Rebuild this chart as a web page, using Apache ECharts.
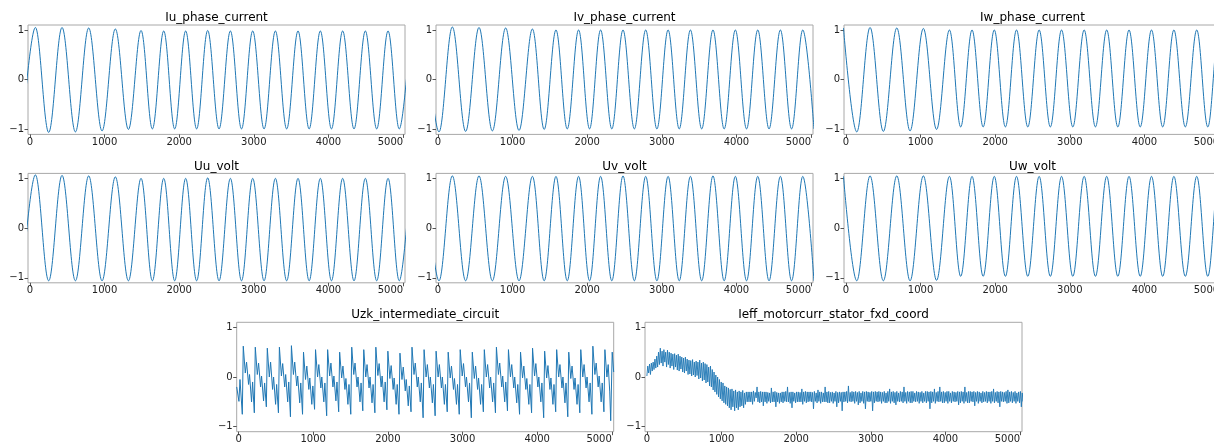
<!DOCTYPE html>
<html><head><meta charset="utf-8">
<script src="https://cdn.jsdelivr.net/npm/echarts@6/dist/echarts.min.js"></script>
<style>html,body{margin:0;padding:0;background:#fff}#c{width:1214px;height:442px}</style>
</head><body><div id="c"></div>
<script>
const titles = ['Iu_phase_current','Iv_phase_current','Iw_phase_current','Uu_volt','Uv_volt','Uw_volt','Uzk_intermediate_circuit','Ieff_motorcurr_stator_fxd_coord'];
const xTicks = [0,1000,2000,3000,4000,5000];
const yTicks = [-1,0,1];

// sample positions of the extrema (peaks / troughs)
const uExtX = [-104,74,252,431,610,788,967,1145,1320,1489,1641,1793,1940,2087,2234,2382,2534,2686,2835,2985,3137,3289,3440,3592,3741,3891,4040,4190,4342,4494,4646,4798,4948,5098];
const vExtX = [-164,15,194,372,551,730,908,1087,1266,1424,1582,1733,1885,2032,2180,2330,2480,2632,2784,2934,3084,3233,3383,3534,3685,3835,3985,4135,4285,4436,4588,4738,4888,5038];
const wExtX = [-32,146,324,502,682,860,1038,1215,1387,1538,1690,1839,1988,2137,2286,2437,2589,2739,2889,3040,3192,3343,3494,3643,3793,3943,4094,4244,4394,4547,4700,4848,4996,5146];

const iuY = [-1.06,1.05,-1.06,1.05,-1.05,1.04,-1.03,1.02,-1.0,0.99,-0.99,0.98,-0.99,0.98,-0.99,0.99,-0.99,0.98,-0.99,0.98,-0.99,0.98,-0.99,0.98,-0.99,0.98,-0.99,0.98,-0.99,0.98,-0.99,0.98,-0.99,0.98];
const ivY = [1.06,-1.05,1.06,-1.04,1.05,-1.03,1.04,-1.02,1.02,-1.0,1.0,-0.99,1.0,-0.99,1.0,-0.99,1.0,-0.99,1.0,-0.99,1.0,-0.99,1.0,-0.99,1.0,-0.99,1.0,-0.99,1.0,-0.99,1.0,-0.99,1.0,-0.99];
const iwY = [1.04,-1.05,1.05,-1.04,1.04,-1.03,1.03,-1.0,1.0,-0.95,1.0,-0.95,1.0,-0.95,1.0,-0.95,1.0,-0.95,1.0,-0.95,1.0,-0.95,1.0,-0.95,1.0,-0.95,1.0,-0.95,1.0,-0.95,1.0,-0.95,1.0,-0.95];
const uuY = [-1.06,1.07,-1.06,1.06,-1.06,1.05,-1.06,1.03,-1.06,1.0,-1.06,1.0,-1.06,1.0,-1.06,1.01,-1.06,1.0,-1.06,1.0,-1.06,1.0,-1.06,1.0,-1.06,1.0,-1.06,1.0,-1.06,1.0,-1.06,1.0,-1.06,1.0];
const uvY = [1.05,-1.06,1.05,-1.06,1.05,-1.06,1.04,-1.06,1.04,-1.06,1.04,-1.06,1.04,-1.06,1.04,-1.06,1.05,-1.06,1.04,-1.06,1.04,-1.06,1.04,-1.06,1.05,-1.06,1.04,-1.06,1.04,-1.06,1.04,-1.06,1.04,-1.06];
const uwY = [1.04,-1.06,1.05,-1.06,1.05,-1.06,1.05,-1.05,1.04,-0.97,1.04,-0.97,1.04,-0.97,1.04,-0.97,1.04,-0.97,1.04,-0.97,1.04,-0.97,1.04,-0.97,1.04,-0.97,1.04,-0.97,1.04,-0.97,1.04,-0.97,1.04,-0.97];

// DC-link voltage: [sample, value] turning points
const uzk = [
[-25,-0.2],[5,-0.49],[19,-0.05],[50,-0.75],
[63,0.62],[90,0.08],[107,0.3],[134,-0.15],[147,0.05],[174,-0.5],[188,-0.1],[211,-0.72],
[224,0.6],[251,0.05],[268,0.28],[295,-0.2],[308,0.02],[335,-0.48],[349,-0.12],[372,-0.6],
[385,0.58],[412,0.0],[429,0.3],[456,-0.25],[469,0.0],[496,-0.55],[510,-0.15],[534,-0.72],
[547,0.6],[574,0.02],[591,0.27],[618,-0.2],[631,0.05],[658,-0.5],[672,-0.1],[695,-0.8],
[708,0.63],[735,0.05],[752,0.3],[779,-0.18],[792,0.02],[819,-0.52],[833,-0.12],[857,-0.75],
[870,0.5],[897,-0.05],[914,0.22],[941,-0.25],[954,-0.02],[981,-0.55],[995,-0.18],[1018,-0.65],
[1031,0.55],[1058,0.0],[1075,0.25],[1102,-0.22],[1115,0.0],[1142,-0.5],[1156,-0.12],[1180,-0.78],
[1193,0.55],[1220,0.02],[1237,0.28],[1264,-0.2],[1277,0.02],[1304,-0.48],[1318,-0.1],[1341,-0.7],
[1354,0.5],[1381,-0.02],[1398,0.22],[1425,-0.25],[1438,-0.03],[1465,-0.55],[1479,-0.15],[1503,-0.75],
[1516,0.6],[1543,0.05],[1560,0.28],[1587,-0.2],[1600,0.0],[1627,-0.5],[1641,-0.12],[1664,-0.68],
[1677,0.55],[1704,0.0],[1721,0.25],[1748,-0.22],[1761,0.0],[1788,-0.52],[1802,-0.15],[1826,-0.72],
[1839,0.6],[1866,0.03],[1883,0.27],[1910,-0.2],[1923,0.02],[1950,-0.5],[1964,-0.1],[1987,-0.66],
[2000,0.52],[2027,-0.03],[2044,0.23],[2071,-0.25],[2084,-0.02],[2111,-0.55],[2125,-0.15],[2149,-0.75],
[2162,0.48],[2189,-0.05],[2206,0.2],[2233,-0.28],[2246,-0.05],[2273,-0.58],[2287,-0.18],[2310,-0.7],
[2323,0.6],[2350,0.05],[2367,0.28],[2394,-0.2],[2407,0.0],[2434,-0.5],[2448,-0.12],[2472,-0.82],
[2485,0.55],[2512,0.0],[2529,0.25],[2556,-0.22],[2569,0.0],[2596,-0.52],[2610,-0.15],[2633,-0.78],
[2646,0.52],[2673,0.0],[2690,0.25],[2717,-0.22],[2730,0.0],[2757,-0.55],[2771,-0.15],[2795,-0.7],
[2808,0.5],[2835,-0.02],[2852,0.22],[2879,-0.25],[2892,-0.03],[2919,-0.55],[2933,-0.15],[2956,-0.75],
[2969,0.55],[2996,0.02],[3013,0.27],[3040,-0.2],[3053,0.0],[3080,-0.5],[3094,-0.12],[3118,-0.82],
[3131,0.5],[3158,-0.03],[3175,0.22],[3202,-0.25],[3215,-0.02],[3242,-0.55],[3256,-0.15],[3279,-0.7],
[3292,0.55],[3319,0.0],[3336,0.25],[3363,-0.22],[3376,0.0],[3403,-0.5],[3417,-0.12],[3441,-0.72],
[3454,0.6],[3481,0.05],[3498,0.28],[3525,-0.2],[3538,0.02],[3565,-0.5],[3579,-0.1],[3602,-0.68],
[3615,0.55],[3642,0.0],[3659,0.25],[3686,-0.22],[3699,0.0],[3726,-0.52],[3740,-0.15],[3764,-0.75],
[3777,0.5],[3804,-0.02],[3821,0.22],[3848,-0.25],[3861,-0.03],[3888,-0.55],[3902,-0.15],[3925,-0.72],
[3938,0.58],[3965,0.02],[3982,0.27],[4009,-0.2],[4022,0.0],[4049,-0.5],[4063,-0.12],[4087,-0.82],
[4100,0.52],[4127,-0.02],[4144,0.23],[4171,-0.25],[4184,-0.02],[4211,-0.55],[4225,-0.15],[4248,-0.7],
[4261,0.55],[4288,0.0],[4305,0.25],[4332,-0.22],[4345,0.0],[4372,-0.52],[4386,-0.12],[4410,-0.8],
[4423,0.5],[4450,-0.03],[4467,0.22],[4494,-0.25],[4507,-0.02],[4534,-0.55],[4548,-0.15],[4571,-0.72],
[4584,0.55],[4611,0.0],[4628,0.25],[4655,-0.22],[4668,0.0],[4695,-0.5],[4709,-0.12],[4733,-0.75],
[4746,0.62],[4773,0.05],[4790,0.28],[4817,-0.2],[4830,0.02],[4857,-0.5],[4871,-0.12],[4894,-0.7],
[4907,0.55],[4934,0.0],[4951,0.25],[4972,-0.3],[4985,-0.88],[5005,0.5],[5025,0.1]
];

// effective motor current, one reading every IEFF_STEP samples
const IEFF_STEP = 12;
const ieff = [
0.02,0.22,0.08,0.26,0.05,0.28,0.12,0.3,
0.15,0.36,0.18,0.42,0.2,0.5,0.25,0.58,
0.28,0.52,0.22,0.55,0.3,0.5,0.2,0.54,
0.25,0.5,0.18,0.48,0.22,0.46,0.15,0.47,
0.2,0.44,0.14,0.46,0.12,0.42,0.16,0.4,
0.1,0.38,0.08,0.4,0.12,0.36,0.05,0.34,
0.06,0.33,0.02,0.35,0.04,0.3,0.0,0.32,
0.03,0.3,-0.04,0.34,-0.02,0.28,-0.08,0.3,
-0.06,0.27,-0.12,0.25,-0.1,0.2,-0.18,0.22,
-0.2,0.15,-0.26,0.1,-0.3,0.04,-0.35,0.0,
-0.4,-0.05,-0.44,-0.1,-0.48,-0.12,-0.52,-0.18,
-0.55,-0.2,-0.58,-0.22,-0.62,-0.25,-0.66,-0.24,
-0.6,-0.28,-0.68,-0.26,-0.62,-0.3,-0.66,-0.28,
-0.6,-0.3,-0.58,-0.27,-0.62,-0.32,-0.55,-0.3,
-0.5,-0.3,-0.5,-0.3,-0.5,-0.3,-0.55,-0.28,
-0.49,-0.31,-0.42,-0.2,-0.5,-0.3,-0.52,-0.29,
-0.5,-0.3,-0.58,-0.3,-0.5,-0.3,-0.53,-0.31,
-0.49,-0.32,-0.52,-0.22,-0.5,-0.3,-0.5,-0.29,
-0.6,-0.31,-0.5,-0.32,-0.53,-0.32,-0.5,-0.3,
-0.52,-0.3,-0.49,-0.29,-0.5,-0.2,-0.5,-0.31,
-0.53,-0.3,-0.62,-0.3,-0.49,-0.32,-0.52,-0.3,
-0.5,-0.3,-0.5,-0.31,-0.5,-0.24,-0.55,-0.3,
-0.49,-0.29,-0.52,-0.3,-0.5,-0.3,-0.49,-0.3,
-0.5,-0.31,-0.64,-0.29,-0.49,-0.32,-0.52,-0.26,
-0.49,-0.3,-0.53,-0.3,-0.5,-0.32,-0.5,-0.2,
-0.5,-0.3,-0.52,-0.29,-0.52,-0.31,-0.49,-0.3,
-0.53,-0.32,-0.49,-0.29,-0.6,-0.31,-0.52,-0.3,
-0.49,-0.31,-0.68,-0.3,-0.5,-0.3,-0.49,-0.29,
-0.52,-0.18,-0.49,-0.31,-0.5,-0.29,-0.49,-0.3,
-0.53,-0.29,-0.49,-0.31,-0.56,-0.29,-0.52,-0.32,
-0.49,-0.29,-0.53,-0.3,-0.64,-0.29,-0.49,-0.3,
-0.5,-0.31,-0.49,-0.29,-0.68,-0.3,-0.52,-0.29,
-0.49,-0.3,-0.5,-0.29,-0.49,-0.3,-0.53,-0.31,
-0.49,-0.29,-0.52,-0.32,-0.52,-0.29,-0.49,-0.24,
-0.53,-0.3,-0.49,-0.29,-0.52,-0.31,-0.56,-0.29,
-0.49,-0.32,-0.5,-0.29,-0.49,-0.3,-0.52,-0.2,
-0.49,-0.31,-0.53,-0.29,-0.49,-0.3,-0.52,-0.29,
-0.52,-0.29,-0.49,-0.32,-0.5,-0.29,-0.49,-0.3,
-0.53,-0.31,-0.49,-0.29,-0.52,-0.32,-0.49,-0.29,
-0.52,-0.29,-0.49,-0.3,-0.64,-0.29,-0.52,-0.3,
-0.49,-0.24,-0.53,-0.31,-0.49,-0.29,-0.5,-0.2,
-0.49,-0.3,-0.52,-0.29,-0.52,-0.31,-0.49,-0.29,
-0.53,-0.29,-0.49,-0.32,-0.52,-0.29,-0.49,-0.3,
-0.5,-0.31,-0.49,-0.29,-0.56,-0.3,-0.52,-0.29,
-0.49,-0.3,-0.53,-0.2,-0.49,-0.31,-0.52,-0.29,
-0.52,-0.29,-0.49,-0.3,-0.5,-0.29,-0.58,-0.31,
-0.49,-0.29,-0.53,-0.3,-0.49,-0.32,-0.52,-0.29,
-0.5,-0.31,-0.49,-0.29,-0.52,-0.3,-0.49,-0.3,
-0.53,-0.29,-0.49,-0.24,-0.52,-0.31,-0.49,-0.29,
-0.52,-0.3,-0.6,-0.29,-0.49,-0.3,-0.5,-0.31,
-0.49,-0.29,-0.53,-0.26,-0.52,-0.3,-0.49,-0.29,
-0.52,-0.31,-0.49,-0.29,-0.53,-0.32,-0.49,-0.3,
-0.52,-0.29,-0.6,-0.32,-0.49,-0.31,-0.62,-0.35,
-0.5,-0.4,-0.48
];

// ---------- build ----------
const pair = (xs, ys) => xs.map((x, i) => [x, ys[i]]);
const seriesData = [
  pair(uExtX, iuY), pair(vExtX, ivY), pair(wExtX, iwY),
  pair(uExtX, uuY), pair(vExtX, uvY), pair(wExtX, uwY),
  uzk, ieff.map((v, i) => [i * IEFF_STEP, v])
];
const smoothFlags = [0.36,0.36,0.36,0.36,0.36,0.36,false,false];
const widths = [1,1,1,1,1,1,1,0.9];

const W = 377, H = 109.4;
const boxes = [[28,25],[436,25],[844,25],[28,173.4],[436,173.4],[844,173.4],[236.7,322.3],[645,322.3]];
const FONT = 'DejaVu Sans';
const minus = v => (v < 0 ? '\u2212' + Math.abs(v) : String(v));

const grid = [], xAxis = [], yAxis = [], series = [], graphic = [];
boxes.forEach((b, i) => {
  grid.push({left: b[0], top: b[1], width: W, height: H, show: true, borderColor: '#a8a8a8', borderWidth: 1,
             backgroundColor: 'transparent', outerBoundsMode: 'none', containLabel: false});
  xAxis.push({
    gridIndex: i, type: 'value', min: -25, max: 5025,
    axisLine: {show: false, onZero: false},
    axisTick: {show: true, length: 3.5, customValues: xTicks, lineStyle: {color: '#555', width: 1}},
    axisLabel: {customValues: xTicks, fontSize: 10, color: '#222', margin: 3, fontFamily: FONT, alignMaxLabel: 'right', formatter: v => String(v)},
    splitLine: {show: false}
  });
  yAxis.push({
    gridIndex: i, type: 'value', min: -1.1, max: 1.1,
    axisLine: {show: false, onZero: false},
    axisTick: {show: true, length: 3.5, customValues: yTicks, lineStyle: {color: '#555', width: 1}},
    axisLabel: {customValues: yTicks, fontSize: 10, color: '#222', margin: 4, fontFamily: FONT, formatter: minus},
    splitLine: {show: false}
  });
  series.push({
    type: 'line', xAxisIndex: i, yAxisIndex: i, data: seriesData[i],
    showSymbol: false, smooth: smoothFlags[i], clip: true,
    lineStyle: {color: '#1f77b4', width: widths[i]}, itemStyle: {color: '#1f77b4'}
  });
  graphic.push({
    type: 'text', x: b[0] + W / 2, y: b[1] - 7,
    style: {text: titles[i], font: '12px "DejaVu Sans"', fill: '#000', align: 'center', verticalAlign: 'middle'}
  });
});

const chart = echarts.init(document.getElementById('c'), null, {renderer: 'canvas'});
chart.setOption({animation: false, backgroundColor: '#fff', grid, xAxis, yAxis, series, graphic});
</script>
</body></html>
